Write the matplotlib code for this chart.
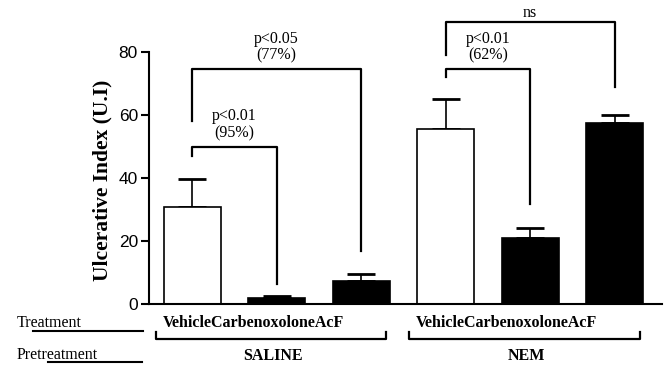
import numpy as np
import matplotlib.pyplot as plt

# datos
grupos = ['SALINE', 'NEM']
tratamientos = ['Vehicle', 'Carbenoxolone', 'AcF']
medias = [30.8, 1.8, 7.3, 55.5, 21.0, 57.4]
errores = [8.9, 0.8, 2.2, 9.5, 3.0, 2.6]
colores = ['white', 'black', 'black', 'white', 'black', 'black']

# corchetes: (barra i, barra j, altura, fin pata izq, fin pata der, texto)
corchetes = [
    (0, 2, 74.5, 58.0, 16.8, 'p<0.05\n(77%)'),
    (0, 1, 49.8, 47.0, 6.5, 'p<0.01\n(95%)'),
    (3, 5, 89.5, 79.0, 69.0, 'ns'),
    (3, 4, 74.5, 72.0, 31.8, 'p<0.01\n(62%)'),
]

serif = 'Liberation Serif'
sans = 'Liberation Sans'

fig = plt.figure(figsize=(6.64, 3.70), dpi=100)
ax = fig.add_axes([149 / 664, 66 / 370, 513 / 664, 252 / 370])

x = np.arange(len(medias))
ax.bar(x, medias, width=0.675, color=colores, edgecolor='black', linewidth=1.2, zorder=2)
ax.errorbar(x, medias, yerr=[np.zeros(len(errores)), errores], fmt='none',
            ecolor='black', elinewidth=1.2, capsize=10, capthick=2, zorder=1)

ax.set_xlim(-0.51, 5.56)
ax.set_ylim(0, 80)
ax.set_yticks([0, 20, 40, 60, 80])
ax.set_xticks([])
for s in ['top', 'right']:
    ax.spines[s].set_visible(False)
for s in ['left', 'bottom']:
    ax.spines[s].set_linewidth(1.5)
ax.tick_params(axis='y', length=6, width=1.5, labelsize=12.5, pad=2)
for t in ax.get_yticklabels():
    t.set_fontfamily(sans)
ax.set_ylabel('Ulcerative Index (U.I)', fontfamily=serif, fontweight='bold', fontsize=15.5)
ax.yaxis.set_label_coords(-0.072, 0.49)

# corchetes de significancia
for i, j, h, yi, yj, txt in corchetes:
    ax.plot([i, i, j, j], [yi, h, h, yj], color='black', lw=1.6, clip_on=False)
    sep = 3.0 if '\n' in txt else 1.6
    ax.text((i + j) / 2, h + sep, txt, ha='center', va='baseline',
            fontfamily=serif, fontsize=11.5, linespacing=1.1)

# etiquetas de abajo
for g, nombre in enumerate(grupos):
    ini = g * 3
    fin = ini + 2
    ax.text(ini + 0.72, -6.0, ''.join(tratamientos), ha='center', va='center',
            fontfamily=serif, fontweight='bold', fontsize=11.5, clip_on=False)
    ax.plot([ini - 0.43, ini - 0.43, fin + 0.3, fin + 0.3], [-9.0, -11.0, -11.0, -9.0],
            color='black', lw=1.6, clip_on=False)
    ax.text(ini + 0.96, -16.5, nombre, ha='center', va='center',
            fontfamily=serif, fontweight='bold', fontsize=11.5, clip_on=False)

fig.text(17 / 664, 1 - 323 / 370, 'Treatment', ha='left', va='center',
         fontfamily=serif, fontsize=11.5)
fig.text(17 / 664, 1 - 355 / 370, 'Pretreatment', ha='left', va='center',
         fontfamily=serif, fontsize=11.5)
fig.add_artist(plt.Line2D([33 / 664, 143 / 664], [1 - 331 / 370, 1 - 331 / 370],
                          color='black', lw=1.5))
fig.add_artist(plt.Line2D([48 / 664, 142 / 664], [1 - 362 / 370, 1 - 362 / 370],
                          color='black', lw=1.5))

plt.savefig('out.png', dpi=100)
